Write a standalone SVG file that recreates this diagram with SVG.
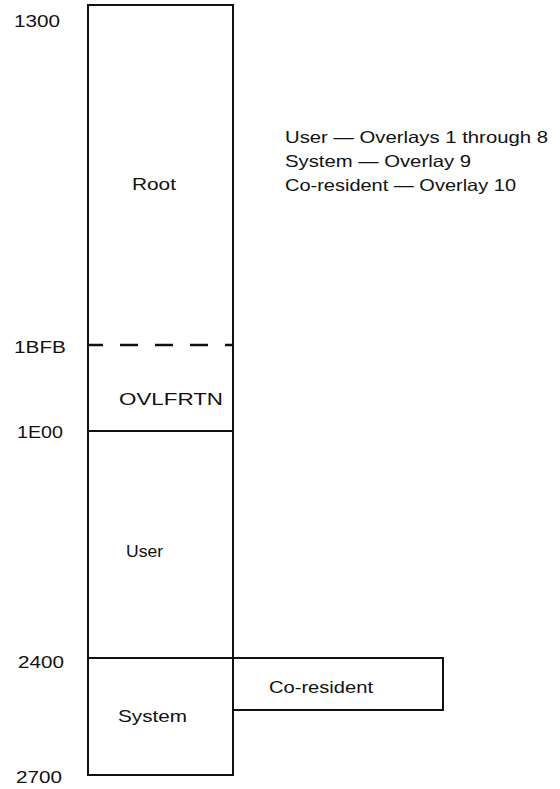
<svg xmlns="http://www.w3.org/2000/svg" width="560" height="789" viewBox="0 0 560 789">
<style>
text{font-family:"Liberation Sans",Arial,sans-serif;font-size:16.5px;fill:#111}
.box{fill:none;stroke:#111;stroke-width:2}
.div{stroke:#111;stroke-width:2}
.dash{stroke:#111;stroke-width:2.5;stroke-dasharray:18 17;stroke-dashoffset:3}
</style>
<rect width="560" height="789" fill="#fff"/>
<g id="addresses">
<text x="14" y="27" textLength="46" lengthAdjust="spacingAndGlyphs">1300</text>
<text x="14" y="353" textLength="52" lengthAdjust="spacingAndGlyphs">1BFB</text>
<text x="17" y="438" textLength="46" lengthAdjust="spacingAndGlyphs">1E00</text>
<text x="18" y="668" textLength="46" lengthAdjust="spacingAndGlyphs">2400</text>
<text x="16" y="783" textLength="46" lengthAdjust="spacingAndGlyphs">2700</text>
</g>
<g id="memory">
<rect class="box" x="88" y="5" width="145" height="770"/>
</g>
<g id="root">
<text x="132" y="190" textLength="44" lengthAdjust="spacingAndGlyphs">Root</text>
</g>
<g id="ovlfrtn">
<line class="dash" x1="88" y1="345" x2="233" y2="345"/>
<text x="119" y="405" textLength="104" lengthAdjust="spacingAndGlyphs">OVLFRTN</text>
</g>
<g id="user">
<line class="div" x1="88" y1="431" x2="233" y2="431"/>
<text x="126" y="557" textLength="37" lengthAdjust="spacingAndGlyphs">User</text>
</g>
<g id="system">
<line class="div" x1="88" y1="658" x2="233" y2="658"/>
<text x="118" y="722" textLength="69" lengthAdjust="spacingAndGlyphs">System</text>
</g>
<g id="coresident">
<path class="box" d="M233 658 H443 V710 H233"/>
<text x="269" y="693" textLength="104" lengthAdjust="spacingAndGlyphs">Co-resident</text>
</g>
<g id="connectors"></g>
<g id="legend">
<text x="285" y="143" textLength="263" lengthAdjust="spacingAndGlyphs">User — Overlays 1 through 8</text>
<text x="285" y="167" textLength="186" lengthAdjust="spacingAndGlyphs">System — Overlay 9</text>
<text x="285" y="191" textLength="231" lengthAdjust="spacingAndGlyphs">Co-resident — Overlay 10</text>
</g>
</svg>
